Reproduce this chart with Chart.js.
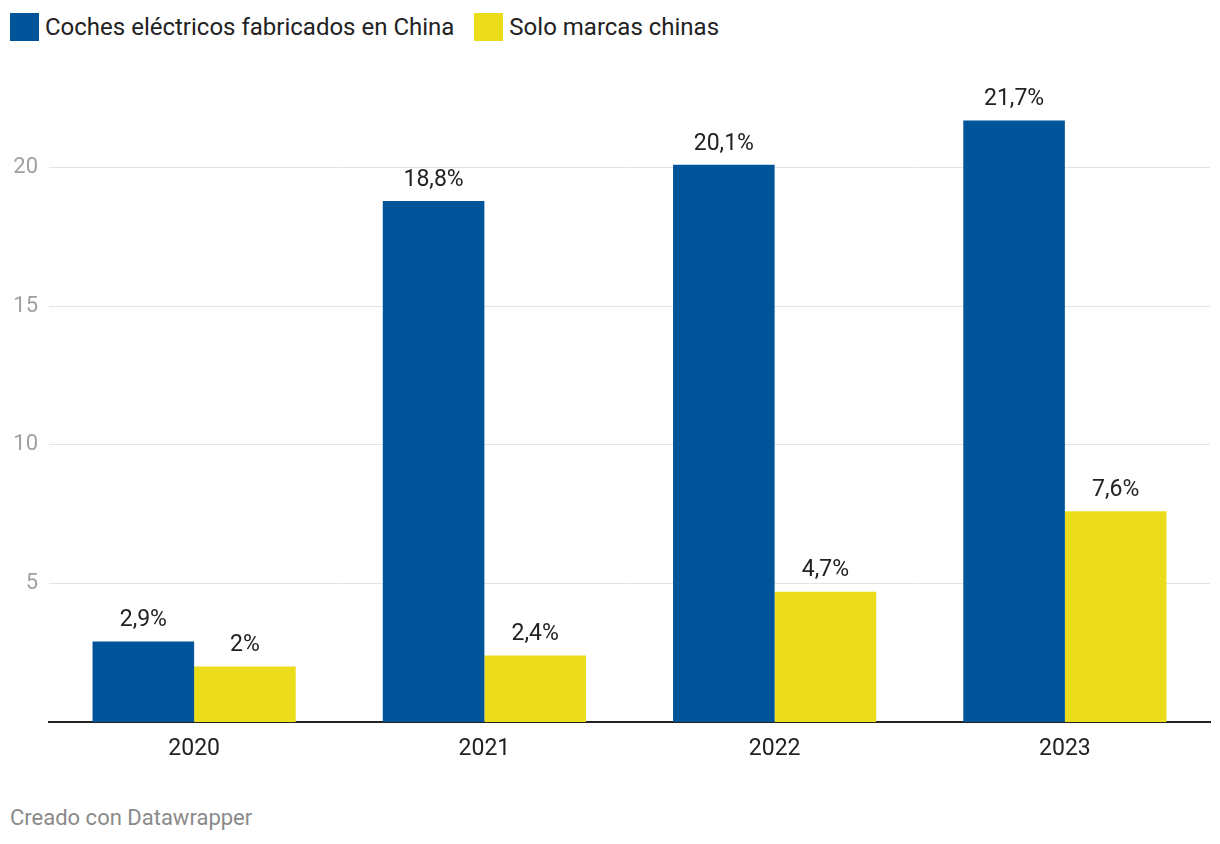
<!DOCTYPE html>
<html>
<head>
<meta charset="utf-8">
<script src="https://cdn.jsdelivr.net/npm/chart.js@4"></script>
<style>
  body { margin: 0; background: #fff; font-family: Roboto, sans-serif; }
  #wrap { position: relative; width: 1220px; height: 844px; }
  #chartBox { position: absolute; left: 0; top: 0; width: 1220px; height: 780px; }
  .legend { position: absolute; top: 13px; left: 10px; display: flex; align-items: center; font-size: 24px; color: #222; }
  .legend .item { display: flex; align-items: center; margin-right: 20px; }
  .legend .box { width: 29px; height: 28px; margin-right: 6px; }
  .footer { position: absolute; left: 10px; top: 805px; font-size: 22px; color: #8a8a8a; }
</style>
</head>
<body>
<div id="wrap">
  <div class="legend" id="legend"></div>
  <div id="chartBox"><canvas id="chart"></canvas></div>
  <div class="footer">Creado con Datawrapper</div>
</div>
<script>
// datos
var years = ["2020", "2021", "2022", "2023"];
var fabricadosChina = [2.9, 18.8, 20.1, 21.7];
var marcasChinas = [2.0, 2.4, 4.7, 7.6];
var seriesNames = ["Coches eléctricos fabricados en China", "Solo marcas chinas"];
var yTicks = [5, 10, 15, 20];

var colors = ["#00559a", "#ecdd1b"];

// leyenda
var legendEl = document.getElementById("legend");
seriesNames.forEach(function (name, i) {
  var item = document.createElement("div");
  item.className = "item";
  item.innerHTML = '<span class="box" style="background:' + colors[i] + '"></span><span>' + name + '</span>';
  legendEl.appendChild(item);
});

// etiquetas encima de las barras
var valueLabels = {
  id: "valueLabels",
  afterDatasetsDraw: function (chart) {
    var ctx = chart.ctx;
    ctx.save();
    ctx.font = "23px Roboto";
    ctx.fillStyle = "#222";
    ctx.textAlign = "center";
    ctx.textBaseline = "middle";
    chart.data.datasets.forEach(function (ds, i) {
      chart.getDatasetMeta(i).data.forEach(function (bar, j) {
        var txt = String(ds.data[j]).replace(".", ",") + "%";
        ctx.fillText(txt, bar.x, bar.y - 21);
      });
    });
    ctx.restore();
  }
};

var ctx = document.getElementById("chart").getContext("2d");
var myChart = new Chart(ctx, {
  type: "bar",
  data: {
    labels: years,
    datasets: [{
      label: seriesNames[0],
      data: fabricadosChina,
      backgroundColor: colors[0]
    }, {
      label: seriesNames[1],
      data: marcasChinas,
      backgroundColor: colors[1]
    }]
  },
  options: {
    responsive: true,
    maintainAspectRatio: false,
    animation: false,
    layout: { padding: { top: 90, right: 10, left: 0, bottom: 0 } },
    datasets: {
      bar: { categoryPercentage: 0.7, barPercentage: 1.0 }
    },
    scales: {
      x: {
        grid: { display: false },
        border: { color: "#222", width: 2 },
        ticks: { color: "#222", font: { family: "Roboto", size: 23 }, padding: 5 },
        afterFit: function (scale) { scale.height = 58; }
      },
      y: {
        min: 0,
        max: 22.8,
        afterBuildTicks: function (scale) {
          scale.ticks = yTicks.map(function (v) { return { value: v }; });
        },
        grid: { color: "#e3e3e3", lineWidth: 1, drawTicks: false },
        border: { display: false },
        ticks: { color: "#a0a0a0", font: { family: "Roboto", size: 22 }, padding: 11 },
        afterFit: function (scale) { scale.width = 49; }
      }
    },
    plugins: {
      legend: { display: false },
      tooltip: { enabled: false }
    }
  },
  plugins: [valueLabels]
});
</script>
</body>
</html>
